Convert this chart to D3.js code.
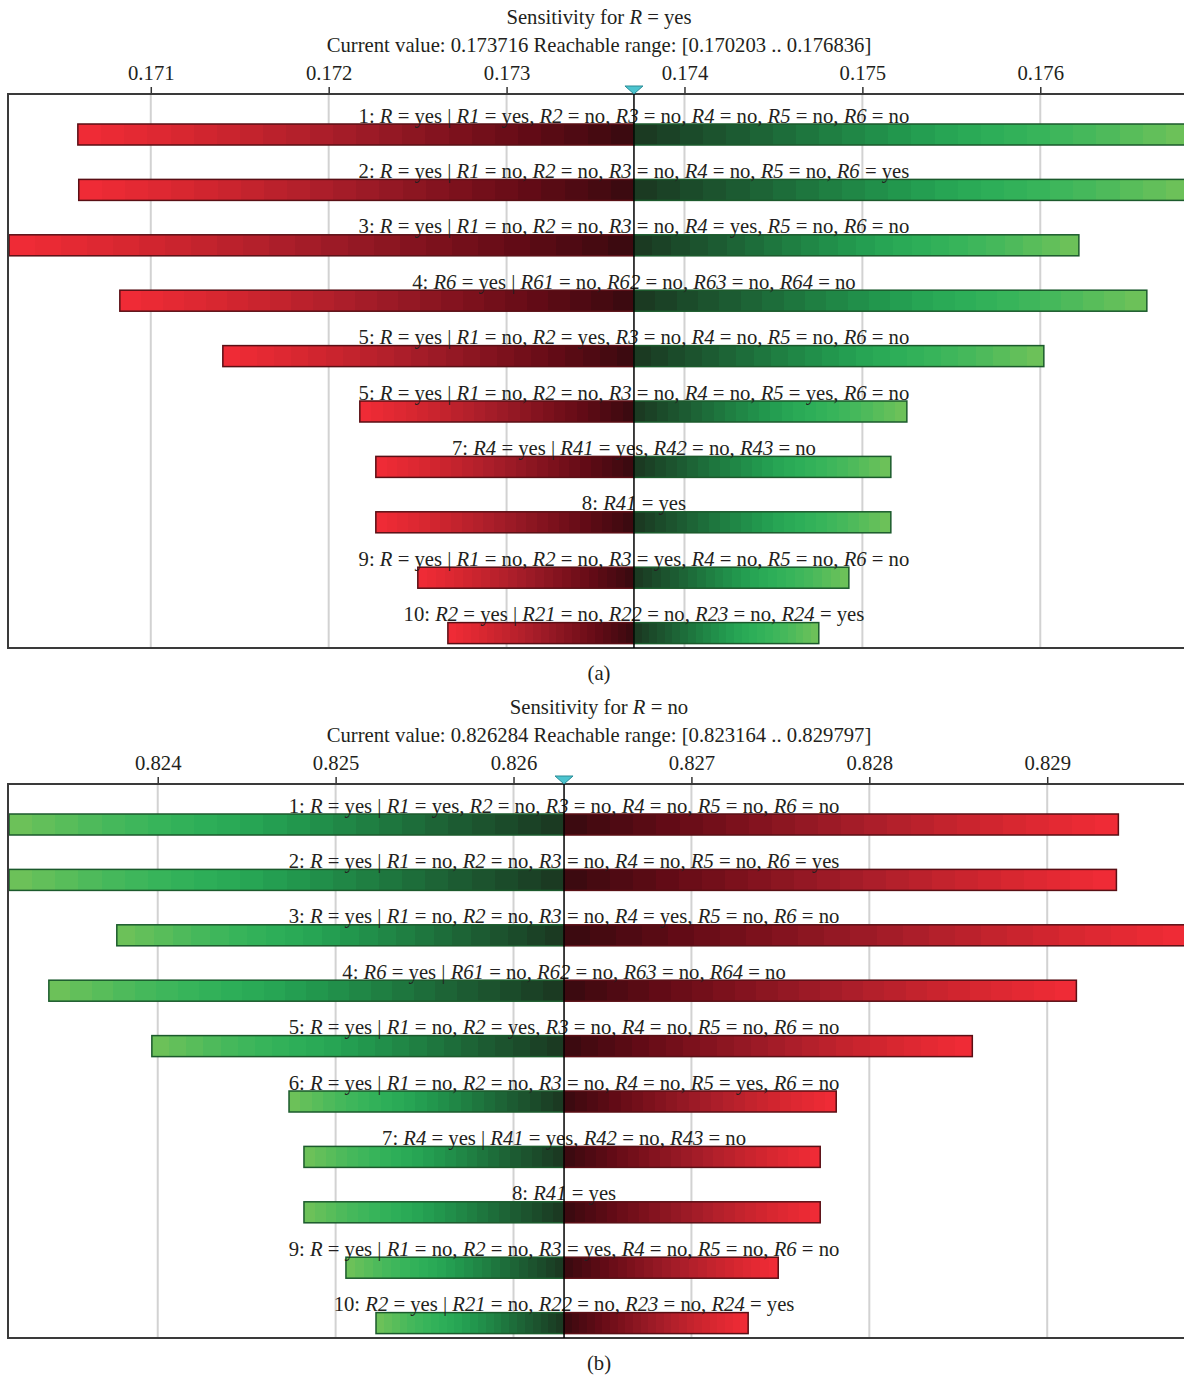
<!DOCTYPE html>
<html>
<head>
<meta charset="utf-8">
<script src="https://cdn.jsdelivr.net/npm/d3@7"></script>
<style>
  body { margin: 0; background: #fff; }
  svg { display: block; }
  text { font-family: "Liberation Serif", "DejaVu Serif", serif; fill: #231f20; }
</style>
</head>
<body>
<div id="chart"></div>
<script>
// Row labels (the original repeats "5:" on the sixth row of panel a)
const LABELS_A = [
    "1: R = yes | R1 = yes, R2 = no, R3 = no, R4 = no, R5 = no, R6 = no",
    "2: R = yes | R1 = no, R2 = no, R3 = no, R4 = no, R5 = no, R6 = yes",
    "3: R = yes | R1 = no, R2 = no, R3 = no, R4 = yes, R5 = no, R6 = no",
    "4: R6 = yes | R61 = no, R62 = no, R63 = no, R64 = no",
    "5: R = yes | R1 = no, R2 = yes, R3 = no, R4 = no, R5 = no, R6 = no",
    "5: R = yes | R1 = no, R2 = no, R3 = no, R4 = no, R5 = yes, R6 = no",
    "7: R4 = yes | R41 = yes, R42 = no, R43 = no",
    "8: R41 = yes",
    "9: R = yes | R1 = no, R2 = no, R3 = yes, R4 = no, R5 = no, R6 = no",
    "10: R2 = yes | R21 = no, R22 = no, R23 = no, R24 = yes"
];
const LABELS_B = LABELS_A.map((l, i) => i === 5 ? l.replace(/^5:/, "6:") : l);

// Panel a: R = yes
const CURRENT_A = 0.173716;
const RANGE_A = [0.170203, 0.176836];
const TICKS_A = [0.171, 0.172, 0.173, 0.174, 0.175, 0.176];
const LOW_A  = [0.170590, 0.170595, 0.170203, 0.170826, 0.171405, 0.172175, 0.172265, 0.172265, 0.172501, 0.172670];
const HIGH_A = [0.176836, 0.176836, 0.176217, 0.176599, 0.176020, 0.175250, 0.175160, 0.175160, 0.174924, 0.174755];

// Panel b: R = no
const CURRENT_B = 0.826284;
const RANGE_B = [0.823164, 0.829797];
const TICKS_B = [0.824, 0.825, 0.826, 0.827, 0.828, 0.829];
const LOW_B  = [0.823164, 0.823164, 0.823770, 0.823388, 0.823967, 0.824738, 0.824822, 0.824822, 0.825058, 0.825227];
const HIGH_B = [0.829400, 0.829389, 0.829797, 0.829164, 0.828579, 0.827814, 0.827724, 0.827724, 0.827488, 0.827319];

const W = 1184, H = 1378;
const FONT = 20.7;

const svg = d3.select("#chart").append("svg")
    .attr("width", W)
    .attr("height", H);

// banded gradients, bright at the outer end, dark at the current value
const defs = svg.append("defs");
const RED = ["#ef2b36", "#d6262f", "#b2202c", "#8e1722", "#680a16", "#3c0a10"];
const GREEN = ["#6cc159", "#3cb75c", "#27ad58", "#1f8a47", "#1c6034", "#1b3a22"];

function bandedGradient(id, colors, reverse) {
    const interp = d3.interpolateRgbBasis(colors);
    const n = 24;
    const g = defs.append("linearGradient").attr("id", id)
        .attr("x1", "0").attr("x2", "1").attr("y1", "0").attr("y2", "0");
    for (let k = 0; k < n; k++) {
        const t = k / (n - 1);
        const c = interp(reverse ? 1 - t : t);
        g.append("stop").attr("offset", k / n).attr("stop-color", c);
        g.append("stop").attr("offset", (k + 1) / n).attr("stop-color", c);
    }
}
bandedGradient("redL", RED, false);
bandedGradient("redR", RED, true);
bandedGradient("greenL", GREEN, false);
bandedGradient("greenR", GREEN, true);

// writes a label with the variable names in italics
function richText(sel, str) {
    str.split(/(R\d*)/).forEach(part => {
        if (part === "") return;
        const t = sel.append("tspan").text(part);
        if (/^R\d*$/.test(part)) t.attr("font-style", "italic");
    });
}

function drawPanel(p) {
    const g = svg.append("g").attr("transform", "translate(0," + p.offset + ")");
    const top = 94, bottom = 648;

    const x = d3.scaleLinear().domain(p.range).range([9, 1189]);
    const y = d3.scaleBand().domain(d3.range(p.labels.length)).range([top, bottom]);

    // titles
    const t1 = g.append("text").attr("x", 599).attr("y", 24)
        .attr("text-anchor", "middle").attr("font-size", FONT);
    t1.append("tspan").text("Sensitivity for ");
    t1.append("tspan").attr("font-style", "italic").text("R");
    t1.append("tspan").text(" = " + p.state);

    g.append("text").attr("x", 599).attr("y", 52)
        .attr("text-anchor", "middle").attr("font-size", FONT)
        .text("Current value: " + p.current + " Reachable range: [" +
              p.range[0] + " .. " + p.range[1] + "]");

    // gridlines
    g.append("g").selectAll("line").data(p.ticks).join("line")
        .attr("x1", d => x(d)).attr("x2", d => x(d))
        .attr("y1", top).attr("y2", bottom)
        .attr("stroke", "#d2d2d2").attr("stroke-width", 2);

    // axis on top of the frame
    const axis = g.append("g").attr("transform", "translate(0," + top + ")")
        .call(d3.axisTop(x).tickValues(p.ticks).tickSize(7).tickPadding(7)
            .tickFormat(d3.format(".3f")));
    axis.select(".domain").remove();
    axis.selectAll(".tick line").attr("stroke", "#333").attr("stroke-width", 1.5);
    axis.selectAll(".tick text").attr("font-size", FONT)
        .attr("font-family", "Liberation Serif").attr("fill", "#231f20");

    const cx = x(p.current);
    const rows = g.append("g").selectAll("g").data(p.labels).join("g");

    // lower half of each bar
    rows.append("rect")
        .attr("x", (d, i) => x(p.low[i]))
        .attr("y", (d, i) => y(i) + 30)
        .attr("width", (d, i) => cx - x(p.low[i]))
        .attr("height", 21)
        .attr("fill", "url(#" + p.lowFill + ")")
        .attr("stroke", p.lowStroke).attr("stroke-width", 1.5);

    // upper half
    rows.append("rect")
        .attr("x", cx)
        .attr("y", (d, i) => y(i) + 30)
        .attr("width", (d, i) => x(p.high[i]) - cx)
        .attr("height", 21)
        .attr("fill", "url(#" + p.highFill + ")")
        .attr("stroke", p.highStroke).attr("stroke-width", 1.5);

    rows.append("text")
        .attr("x", cx)
        .attr("y", (d, i) => y(i) + 28.5)
        .attr("text-anchor", "middle")
        .attr("font-size", FONT)
        .each(function(d) { richText(d3.select(this), d); });

    // frame
    g.append("rect").attr("x", 8).attr("y", top)
        .attr("width", 1181).attr("height", bottom - top)
        .attr("fill", "none").attr("stroke", "#3a3a3a").attr("stroke-width", 2);

    // current value line and marker
    g.append("line").attr("x1", cx).attr("x2", cx)
        .attr("y1", top - 7).attr("y2", bottom)
        .attr("stroke", "#000").attr("stroke-width", 1.5);
    const tri = d3.path();
    tri.moveTo(cx - 9, top - 8);
    tri.lineTo(cx + 9, top - 8);
    tri.lineTo(cx, top);
    tri.closePath();
    g.append("path").attr("d", tri.toString())
        .attr("fill", "#4cc4cf").attr("stroke", "#2a8c96").attr("stroke-width", 1);

    g.append("text").attr("x", 599).attr("y", 680)
        .attr("text-anchor", "middle").attr("font-size", FONT)
        .text(p.caption);
}

drawPanel({
    offset: 0, state: "yes", caption: "(a)",
    labels: LABELS_A, current: CURRENT_A, range: RANGE_A, ticks: TICKS_A,
    low: LOW_A, high: HIGH_A,
    lowFill: "redL", highFill: "greenR",
    lowStroke: "#5a0f15", highStroke: "#1b5a2c"
});

drawPanel({
    offset: 690, state: "no", caption: "(b)",
    labels: LABELS_B, current: CURRENT_B, range: RANGE_B, ticks: TICKS_B,
    low: LOW_B, high: HIGH_B,
    lowFill: "greenL", highFill: "redR",
    lowStroke: "#1b5a2c", highStroke: "#5a0f15"
});
</script>
</body>
</html>
